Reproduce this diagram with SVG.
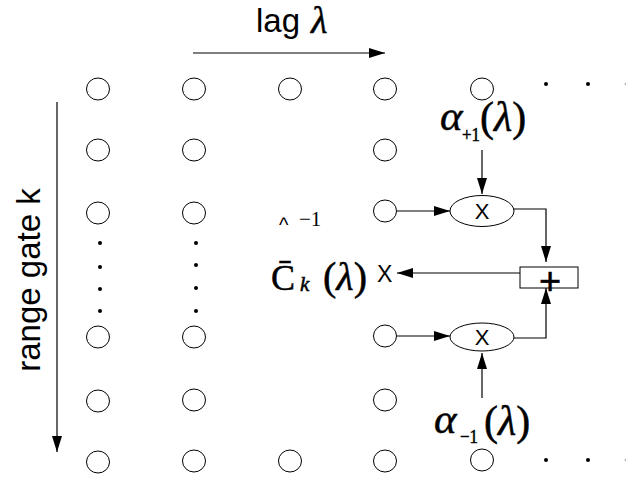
<svg xmlns="http://www.w3.org/2000/svg" width="626" height="481" viewBox="0 0 626 481">
<defs>
<marker id="ah" viewBox="0 0 16 10" refX="16" refY="5" markerWidth="16" markerHeight="10" markerUnits="userSpaceOnUse" orient="auto">
<path d="M0,0 L16,5 L0,10 Z" fill="#000"/>
</marker>
<style>
.c{fill:#fff;stroke:#000;stroke-width:1}
.d{fill:#000}
.ar{fill:none;stroke:#000;stroke-width:1.2;marker-end:url(#ah)}
.sans{font-family:"Liberation Sans",Arial,sans-serif;fill:#000}
.ser{font-family:"Liberation Serif","Times New Roman",serif;fill:#000}
.it{font-style:italic}
.hv{stroke:#000;stroke-width:0.5}
</style>
</defs>
<rect width="626" height="481" fill="#fff"/>

<g id="axes">
<text class="sans" x="256" y="32" font-size="33">lag</text>
<text class="ser it hv" x="311" y="33" font-size="38">λ</text>
<text class="sans" x="40" y="280" font-size="33" text-anchor="middle" transform="rotate(-90 40 280)">range gate k</text>
</g>

<g id="grid">
<g id="row1">
<ellipse class="c" cx="98" cy="89" rx="11.5" ry="11"/>
<ellipse class="c" cx="194" cy="89" rx="11.5" ry="11"/>
<ellipse class="c" cx="290" cy="89" rx="11.5" ry="11"/>
<ellipse class="c" cx="385" cy="89" rx="11.5" ry="11"/>
<ellipse class="c" cx="482" cy="89" rx="11.5" ry="11"/>
<circle class="d" cx="546" cy="84" r="2"/>
<circle class="d" cx="588" cy="84" r="2"/>
<circle cx="626" cy="84" r="1.5" fill="#bbb"/>
</g>
<g id="row2">
<ellipse class="c" cx="98" cy="150" rx="11.5" ry="11"/>
<ellipse class="c" cx="194" cy="150" rx="11.5" ry="11"/>
<ellipse class="c" cx="385" cy="150" rx="11.5" ry="11"/>
</g>
<g id="row3">
<ellipse class="c" cx="98" cy="213" rx="11.5" ry="11"/>
<ellipse class="c" cx="194" cy="213" rx="11.5" ry="11"/>
<ellipse class="c" cx="385" cy="211" rx="11.5" ry="11"/>
</g>
<g id="vdots">
<circle class="d" cx="100" cy="243" r="2"/>
<circle class="d" cx="100" cy="267" r="2"/>
<circle class="d" cx="100" cy="289" r="2"/>
<circle class="d" cx="100" cy="311" r="2"/>
<circle class="d" cx="196" cy="243" r="2"/>
<circle class="d" cx="196" cy="265" r="2"/>
<circle class="d" cx="196" cy="288" r="2"/>
<circle class="d" cx="196" cy="311" r="2"/>
</g>
<g id="row4">
<ellipse class="c" cx="98" cy="337" rx="11.5" ry="11"/>
<ellipse class="c" cx="194" cy="337" rx="11.5" ry="11"/>
<ellipse class="c" cx="385" cy="336" rx="11.5" ry="11"/>
</g>
<g id="row5">
<ellipse class="c" cx="98" cy="401" rx="11.5" ry="11"/>
<ellipse class="c" cx="194" cy="400" rx="11.5" ry="11"/>
<ellipse class="c" cx="385" cy="400" rx="11.5" ry="11"/>
</g>
<g id="row6">
<ellipse class="c" cx="98" cy="462" rx="11.5" ry="11"/>
<ellipse class="c" cx="194" cy="461" rx="11.5" ry="11"/>
<ellipse class="c" cx="290" cy="461" rx="11.5" ry="11"/>
<ellipse class="c" cx="385" cy="461" rx="11.5" ry="11"/>
<ellipse class="c" cx="482" cy="460" rx="11.5" ry="11"/>
<circle class="d" cx="546" cy="460" r="2"/>
<circle class="d" cx="588" cy="460" r="2"/>
<circle cx="626" cy="460" r="1.5" fill="#bbb"/>
</g>
</g>

<g id="mult-top">
<ellipse class="c" cx="482" cy="211" rx="32" ry="15.5"/>
<text class="sans" x="482" y="218.5" font-size="22" text-anchor="middle">X</text>
</g>
<g id="mult-bottom">
<ellipse class="c" cx="482" cy="337" rx="32" ry="14"/>
<text class="sans" x="482" y="344.5" font-size="22" text-anchor="middle">X</text>
</g>
<g id="adder">
<rect class="c" x="520" y="267" width="58" height="21"/>
<text class="sans hv" x="550" y="294" font-size="38" text-anchor="middle">+</text>
</g>

<g id="alpha-plus">
<text class="ser hv" font-size="42"><tspan class="it" x="440" y="130" font-size="43">α</tspan><tspan x="462" y="141" font-size="19" textLength="18" lengthAdjust="spacingAndGlyphs">+1</tspan><tspan x="480" y="131">(<tspan class="it">λ</tspan>)</tspan></text>
</g>
<g id="alpha-minus">
<text class="ser hv" font-size="42"><tspan class="it" x="434" y="433" font-size="43">α</tspan><tspan x="460" y="443" font-size="19" textLength="18" lengthAdjust="spacingAndGlyphs">−1</tspan><tspan x="484" y="435">(<tspan class="it">λ</tspan>)</tspan></text>
</g>
<g id="output">
<text class="sans" x="279" y="232" font-size="20">^</text>
<text class="ser" x="299" y="226" font-size="21">−1</text>
<text class="ser hv" font-size="40"><tspan x="271" y="290" font-size="36">C&#x0304;</tspan><tspan class="it" x="300" y="291" font-size="21">k</tspan><tspan x="323" y="290">(<tspan class="it">λ</tspan>)</tspan></text>
<text class="sans" x="377" y="282" font-size="23">X</text>
</g>

<g id="connectors">
<line class="ar" x1="193" y1="53" x2="385" y2="53"/>
<line class="ar" x1="57" y1="102" x2="57" y2="452"/>
<line class="ar" x1="397" y1="211" x2="450" y2="211"/>
<line class="ar" x1="397" y1="336" x2="450" y2="336"/>
<line class="ar" x1="482" y1="150" x2="482" y2="194"/>
<line class="ar" x1="482" y1="398" x2="482" y2="353"/>
<polyline class="ar" points="514,209 546,209 546,262"/>
<polyline class="ar" points="514,338 546,338 546,288"/>
<line class="ar" x1="520" y1="273" x2="397" y2="273"/>
</g>
</svg>
